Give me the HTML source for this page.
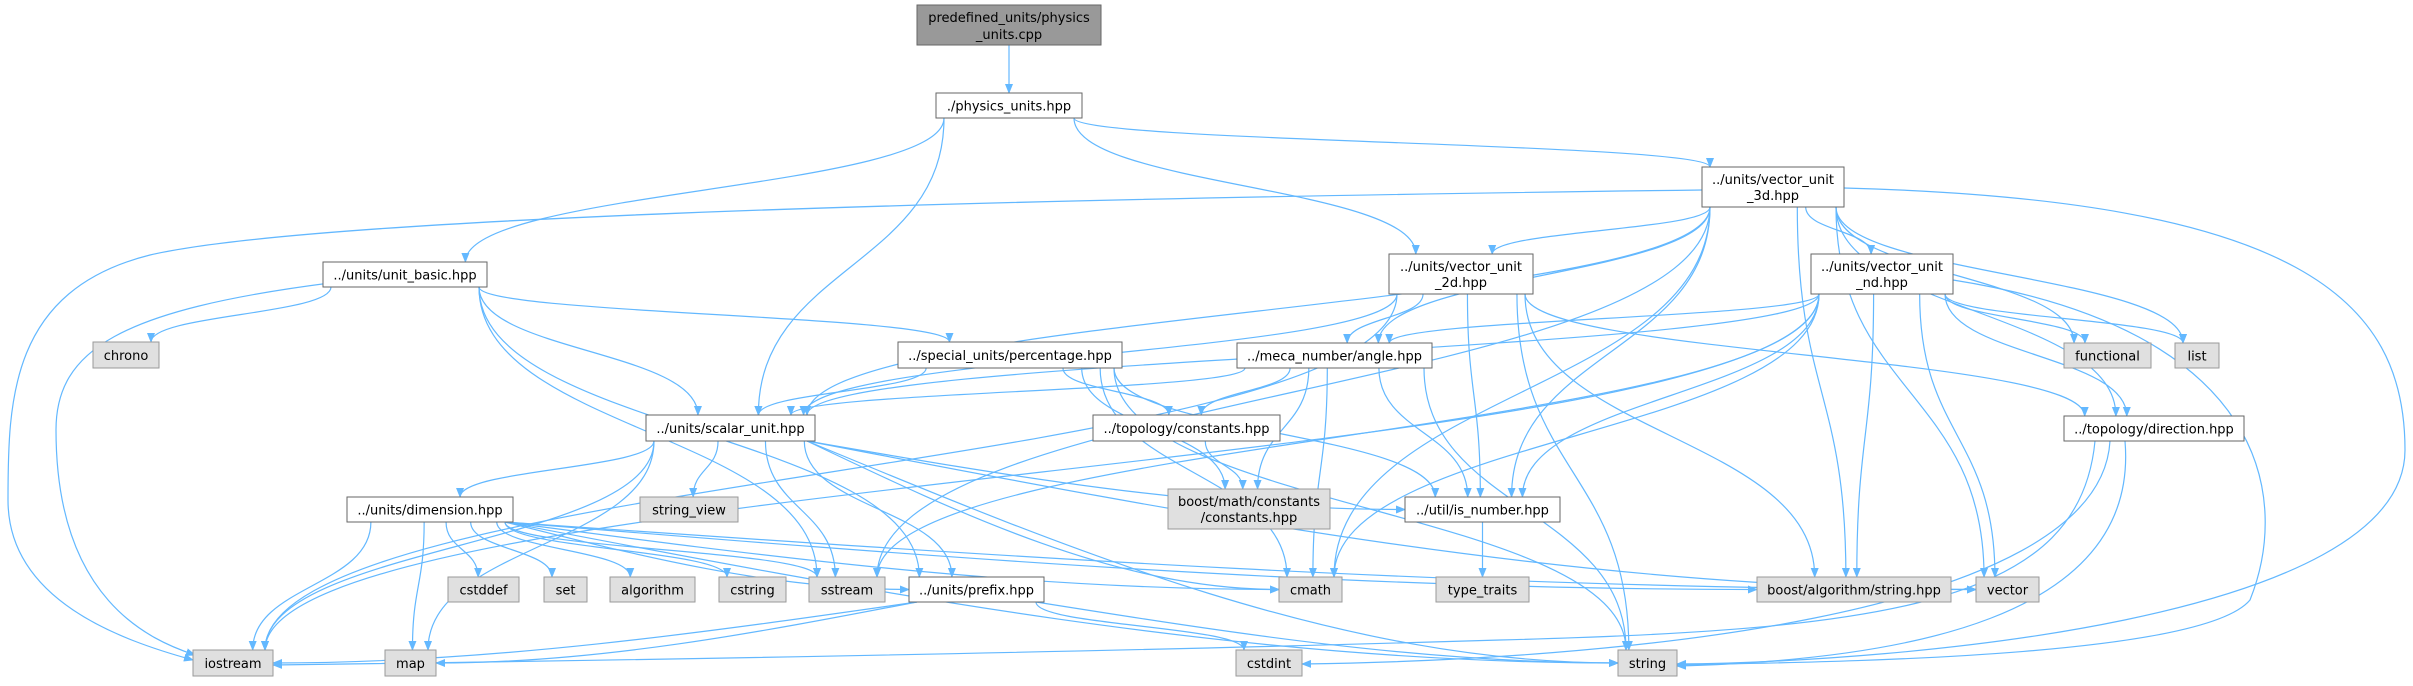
<!DOCTYPE html>
<html><head><meta charset="utf-8"><style>
html,body{margin:0;padding:0;background:#fff;}
svg text{font-family:"DejaVu Sans","Liberation Sans",sans-serif;font-size:13px;fill:#000;}
</style></head><body>
<svg id="g" width="2413" height="681" xmlns="http://www.w3.org/2000/svg">
<defs><marker id="a" markerWidth="10" markerHeight="10" refX="9" refY="5" orient="auto" markerUnits="userSpaceOnUse"><path d="M0,1 L10,5 L0,9 Z" fill="#63b8ff"/></marker></defs>
<g id="edges" fill="none" stroke="#63b8ff" stroke-width="1.2"></g>
<g id="nodes">
<rect x="917" y="5" width="184" height="40" fill="#999" stroke="#666"/>
<text x="1009" y="22" text-anchor="middle">predefined_units/physics</text>
<text x="1009" y="39" text-anchor="middle">_units.cpp</text>
</g>
</svg>
<script>
var N={
phys:[936,93,1082,118,["./physics_units.hpp"],0],
ub:[323,262,487,287,["../units/unit_basic.hpp"],0],
v3:[1702,167,1844,207,["../units/vector_unit","_3d.hpp"],0],
v2:[1389,254,1533,294,["../units/vector_unit","_2d.hpp"],0],
vn:[1811,254,1953,294,["../units/vector_unit","_nd.hpp"],0],
ang:[1237,343,1432,368,["../meca_number/angle.hpp"],0],
func:[2064,343,2151,368,["functional"],1],
list:[2175,343,2219,368,["list"],1],
dir:[2064,416,2244,441,["../topology/direction.hpp"],0],
chrono:[93,342,159,368,["chrono"],1],
pct:[898,342,1122,368,["../special_units/percentage.hpp"],0],
sc:[646,415,815,441,["../units/scalar_unit.hpp"],0],
tc:[1093,415,1280,441,["../topology/constants.hpp"],0],
bmc:[1168,489,1330,529,["boost/math/constants","/constants.hpp"],1],
isn:[1405,497,1560,522,["../util/is_number.hpp"],0],
sv:[640,497,738,522,["string_view"],1],
dim:[347,497,513,522,["../units/dimension.hpp"],0],
cstddef:[448,577,519,602,["cstddef"],1],
set:[544,577,587,602,["set"],1],
alg:[610,577,695,602,["algorithm"],1],
cstring:[719,577,786,602,["cstring"],1],
ss:[809,577,885,602,["sstream"],1],
pre:[909,577,1044,602,["../units/prefix.hpp"],0],
cmath:[1279,577,1342,602,["cmath"],1],
tt:[1436,577,1529,602,["type_traits"],1],
bas:[1757,577,1951,602,["boost/algorithm/string.hpp"],1],
vec:[1976,577,2039,602,["vector"],1],
io:[193,650,273,676,["iostream"],1],
map:[385,650,436,676,["map"],1],
cstdint:[1236,650,1302,676,["cstdint"],1],
str:[1618,650,1677,676,["string"],1]
};
var E=[
["phys","ub"],["phys","sc"],["phys","v2"],["phys","v3"],
["ub","chrono"],["ub","ss"],["ub","pre"],["ub","sc"],["ub","pct"],
["v3","sc"],["v3","v2"],["v3","vn"],["v3","ang"],["v3","isn"],["v3","cmath"],["v3","ss"],["v3","func"],["v3","list"],["v3","dir"],["v3","bas"],["v3","vec"],
["v2","io"],["v2","sc"],["v2","ang"],["v2","isn"],["v2","str"],["v2","bas"],["v2","dir"],
["vn","sc"],["vn","io"],["vn","ss"],["vn","ang"],["vn","func"],["vn","list"],["vn","dir"],["vn","isn"],["vn","cmath"],["vn","bas"],["vn","vec"],
["ang","sc"],["ang","tc"],["ang","bmc"],["ang","isn"],["ang","cmath"],["ang","str"],
["pct","sc"],["pct","tc"],["pct","bmc"],["pct","isn"],["pct","cmath"],["pct","str"],
["tc","bmc"],
["sc","io"],["sc","map"],["sc","dim"],["sc","sv"],["sc","ss"],["sc","pre"],["sc","isn","L"],["sc","cmath","L"],["sc","str","L"],["sc","vec","L"],
["dim","io"],["dim","map"],["dim","cstddef"],["dim","set"],["dim","alg"],["dim","cstring"],["dim","ss"],["dim","pre","L"],["dim","cmath","L"],["dim","str","L"],["dim","bas","L"],["dim","vec","L"],
["pre","io","R"],["pre","map","R"],["pre","cstdint"],["pre","str","L"],
["isn","tt"]
];
var extra=[
"M1702,190 C900,200 300,220 150,255 C10,290 8,400 8,500 C8,600 120,640 193,660",
"M330,283 C120,310 56,350 56,430 C56,600 150,640 195,655",
"M1844,188 C2300,200 2405,300 2405,450 C2405,620 1900,662 1677,664",
"M1953,280 C2270,330 2290,500 2250,600 C2200,660 1800,662 1677,665",
"M2095,441 C2080,600 1900,630 1500,640 C1000,655 500,662 273,665",
"M2110,441 C2100,620 1600,660 1302,664",
"M2125,441 C2140,620 1900,660 1677,666"
];
var ns="http://www.w3.org/2000/svg";
var eg=document.getElementById("edges"),ng=document.getElementById("nodes");
function cl(v,a,b){return Math.max(a,Math.min(b,v));}
function add(d){var p=document.createElementNS(ns,"path");p.setAttribute("d",d);p.setAttribute("marker-end","url(#a)");eg.appendChild(p);}
E.forEach(function(e){
 var s=N[e[0]],t=N[e[1]];
 var scx=(s[0]+s[2])/2,tcx=(t[0]+t[2])/2;
 var sx=cl(scx+(tcx-scx)*0.3,s[0]+8,s[2]-8),sy=s[3];
 if(e[2]=="L"||e[2]=="R"){
  if(e[2]=="R"&&s[3]>t[1]-20){sx=s[0];sy=(s[1]+s[3])/2+8;}
  if(e[2]=="L"&&s[3]>t[1]-20){sx=s[2];sy=(s[1]+s[3])/2+5;}
  var tx=e[2]=="L"?t[0]:t[2],ty=(t[1]+t[3])/2;
  add("M"+sx+","+sy+" C"+(sx+(tx-sx)*0.33)+","+(sy+(ty-sy)*0.5)+" "+(sx+(tx-sx)*0.66)+","+ty+" "+tx+","+ty);
  return;
 }
 var tx=cl(tcx+(scx-tcx)*0.1,t[0]+8,t[2]-8),ty=t[1];
 var dy=(ty-sy)*0.5;
 add("M"+sx+","+sy+" C"+sx+","+(sy+dy)+" "+tx+","+(ty-dy)+" "+tx+","+ty);
});
add("M1009,45 L1009,93");
extra.forEach(add);
for(var k in N){
 var n=N[k];
 var r=document.createElementNS(ns,"rect");
 r.setAttribute("x",n[0]);r.setAttribute("y",n[1]);r.setAttribute("width",n[2]-n[0]);r.setAttribute("height",n[3]-n[1]);
 r.setAttribute("fill",n[5]?"#e0e0e0":"#fff");r.setAttribute("stroke",n[5]?"#999":"#666");
 ng.appendChild(r);
 var cx=(n[0]+n[2])/2,L=n[4];
 for(var i=0;i<L.length;i++){
  var t=document.createElementNS(ns,"text");
  t.setAttribute("x",cx);t.setAttribute("text-anchor","middle");
  var cy=(n[1]+n[3])/2+5+(i-(L.length-1)/2)*16;
  t.setAttribute("y",cy);t.textContent=L[i];ng.appendChild(t);
 }
}
</script>
</body></html>
